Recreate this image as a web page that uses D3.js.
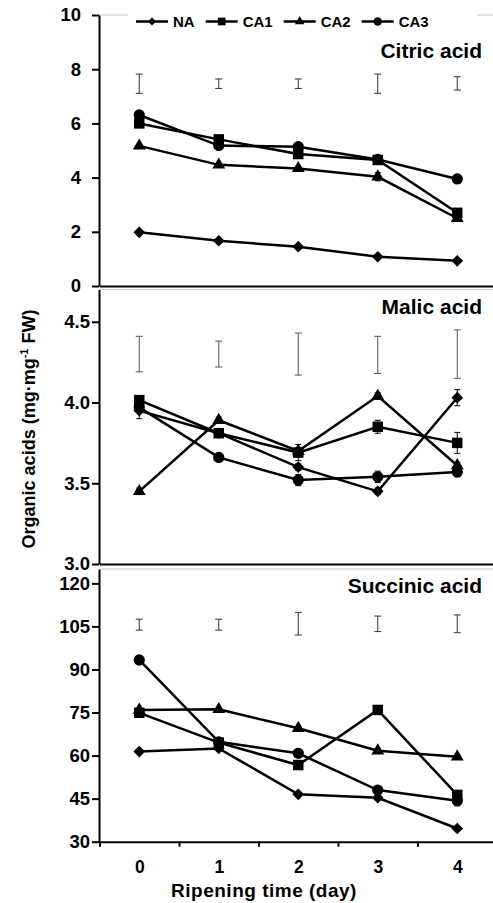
<!DOCTYPE html>
<html lang="en">
<head>
<meta charset="UTF-8">
<title>Organic acids</title>
<script src="https://d3js.org/d3.v7.min.js"></script>
<style>
    body { margin: 0; background: #fff; }
    svg text { font-family: "Liberation Sans", Arial, sans-serif; font-weight: bold; fill: #000; }
</style>
</head>
<body>
<svg id="chart" width="493" height="903"></svg>
<script>
    // ---------- data ----------
    var days = [0, 1, 2, 3, 4];
    var seriesNames = ["NA", "CA1", "CA2", "CA3"];

    // citric acid
    var citricNA  = [1.98, 1.67, 1.45, 1.08, 0.93];
    var citricCA1 = [6.00, 5.41, 4.87, 4.65, 2.70];
    var citricCA2 = [5.17, 4.47, 4.34, 4.03, 2.50];
    var citricCA3 = [6.31, 5.18, 5.14, 4.67, 3.95];
    var citricErrNA  = [0.04, 0.04, 0.04, 0.04, 0.04];
    var citricErrCA1 = [0.05, 0.05, 0.05, 0.05, 0.05];
    var citricErrCA2 = [0.05, 0.05, 0.05, 0.15, 0.05];
    var citricErrCA3 = [0.05, 0.05, 0.05, 0.05, 0.05];
    var citricLsdLow  = [7.11, 7.29, 7.29, 7.11, 7.23];
    var citricLsdHigh = [7.82, 7.64, 7.64, 7.82, 7.72];
    var citricTicks = [0, 2, 4, 6, 8, 10];

    // malic acid
    var malicNA  = [3.95, 3.81, 3.60, 3.45, 4.03];
    var malicCA1 = [4.015, 3.81, 3.69, 3.85, 3.75];
    var malicCA2 = [3.45, 3.89, 3.70, 4.04, 3.61];
    var malicCA3 = [3.97, 3.66, 3.52, 3.54, 3.57];
    var malicErrNA  = [0.05, 0.02, 0.02, 0.02, 0.05];
    var malicErrCA1 = [0.02, 0.02, 0.05, 0.04, 0.065];
    var malicErrCA2 = [0.02, 0.02, 0.02, 0.02, 0.02];
    var malicErrCA3 = [0.02, 0.02, 0.035, 0.035, 0.03];
    var malicLsdLow  = [4.19, 4.22, 4.17, 4.18, 4.15];
    var malicLsdHigh = [4.41, 4.38, 4.43, 4.41, 4.45];
    var malicTicks = [3.0, 3.5, 4.0, 4.5];

    // succinic acid
    var succinicNA  = [61.4, 62.5, 46.5, 45.3, 34.6];
    var succinicCA1 = [74.9, 64.5, 56.7, 75.9, 46.3];
    var succinicCA2 = [75.9, 76.1, 69.5, 61.7, 59.6];
    var succinicCA3 = [93.3, 64.8, 60.8, 48.0, 44.3];
    var succinicErrNA  = [0.5, 0.5, 0.5, 0.5, 0.5];
    var succinicErrCA1 = [0.5, 0.5, 0.5, 0.5, 1.0];
    var succinicErrCA2 = [0.5, 0.5, 0.5, 0.5, 0.5];
    var succinicErrCA3 = [0.5, 0.5, 0.5, 0.5, 1.8];
    var succinicLsdLow  = [103.7, 103.7, 102.0, 103.2, 102.8];
    var succinicLsdHigh = [107.5, 107.5, 109.9, 108.6, 109.0];
    var succinicTicks = [30, 45, 60, 75, 90, 105, 120];

    // ---------- layout ----------
    var svg = d3.select("#chart");
    var left = 99, right = 493;

    var x = d3.scaleLinear().domain([-0.5, 4.5]).range([99.5, 497]);

    var panels = [
        { title: "Citric acid", values: [citricNA, citricCA1, citricCA2, citricCA3],
          err: [citricErrNA, citricErrCA1, citricErrCA2, citricErrCA3],
          lsdLow: citricLsdLow, lsdHigh: citricLsdHigh, ticks: citricTicks, fmt: d3.format("d"),
          domain: [0, 10], range: [286, 15], pad: 11, titleY: 58, lsdColor: "#333" },
        { title: "Malic acid", values: [malicNA, malicCA1, malicCA2, malicCA3],
          err: [malicErrNA, malicErrCA1, malicErrCA2, malicErrCA3],
          lsdLow: malicLsdLow, lsdHigh: malicLsdHigh, ticks: malicTicks, fmt: d3.format(".1f"),
          domain: [3.0, 4.7], range: [564, 289.5], pad: 2, titleY: 314, lsdColor: "#555" },
        { title: "Succinic acid", values: [succinicNA, succinicCA1, succinicCA2, succinicCA3],
          err: [succinicErrNA, succinicErrCA1, succinicErrCA2, succinicErrCA3],
          lsdLow: succinicLsdLow, lsdHigh: succinicLsdHigh, ticks: succinicTicks, fmt: d3.format("d"),
          domain: [30, 125], range: [841.7, 569], pad: 2, titleY: 593, lsdColor: "#333" }
    ];

    var symbols = {
        NA:  { type: d3.symbolSquare, size: 68, rot: 45, legendSize: 34 },
        CA1: { type: d3.symbolSquare, size: 110, rot: 0, legendSize: 60 },
        CA2: { type: d3.symbolTriangle, size: 72, rot: 0, legendSize: 40 },
        CA3: { type: d3.symbolCircle, size: 100, rot: 0, legendSize: 55 }
    };

    panels.forEach(function (p, pi) {
        var y = d3.scaleLinear().domain(p.domain).range(p.range);
        var g = svg.append("g");

        // light frame on top
        g.append("line")
            .attr("x1", left).attr("x2", right)
            .attr("y1", p.range[1]).attr("y2", p.range[1])
            .attr("stroke", "#c8c8c8").attr("stroke-width", 1);

        // LSD bars
        var lsd = g.append("g").attr("stroke", p.lsdColor).attr("stroke-width", 1);
        days.forEach(function (d, i) {
            lsd.append("line").attr("x1", x(d)).attr("x2", x(d))
                .attr("y1", y(p.lsdLow[i])).attr("y2", y(p.lsdHigh[i]));
            [p.lsdLow[i], p.lsdHigh[i]].forEach(function (v) {
                lsd.append("line").attr("x1", x(d) - 3.5).attr("x2", x(d) + 3.5)
                    .attr("y1", y(v)).attr("y2", y(v));
            });
        });

        // series
        var line = d3.line().x(function (d, i) { return x(days[i]); }).y(function (d) { return y(d); });
        p.values.forEach(function (vals, si) {
            var eg = g.append("g").attr("stroke", "#000").attr("stroke-width", 1);
            vals.forEach(function (v, i) {
                var e = p.err[si][i];
                eg.append("line").attr("x1", x(days[i])).attr("x2", x(days[i]))
                    .attr("y1", y(v - e)).attr("y2", y(v + e));
                [v - e, v + e].forEach(function (w) {
                    eg.append("line").attr("x1", x(days[i]) - 3).attr("x2", x(days[i]) + 3)
                        .attr("y1", y(w)).attr("y2", y(w));
                });
            });
            g.append("path").datum(vals)
                .attr("d", line)
                .attr("fill", "none").attr("stroke", "#000").attr("stroke-width", 2.5);
        });
        p.values.forEach(function (vals, si) {
            var s = symbols[seriesNames[si]];
            g.selectAll(null).data(vals).enter().append("path")
                .attr("d", d3.symbol().type(s.type).size(s.size))
                .attr("transform", function (d, i) {
                    return "translate(" + x(days[i]) + "," + y(d) + ") rotate(" + s.rot + ")";
                })
                .attr("fill", "#000");
        });

        // y axis
        var ya = g.append("g").attr("transform", "translate(" + left + ",0)")
            .call(d3.axisLeft(y).tickValues(p.ticks).tickFormat(p.fmt)
                .tickSize(7).tickSizeOuter(0).tickPadding(p.pad));
        ya.select(".domain").attr("stroke-width", 2);
        ya.selectAll(".tick line").attr("stroke-width", 2);
        ya.selectAll(".tick text").style("font-size", "18.5px");

        // x axis line (ticks only on the last panel)
        var last = pi === panels.length - 1;
        var xa = g.append("g").attr("transform", "translate(0," + p.range[0] + ")")
            .call(d3.axisBottom(x).tickValues(last ? [-0.5, 0.5, 1.5, 2.5, 3.5, 4.5] : [])
                .tickSize(last ? 5 : 0).tickSizeOuter(0).tickFormat(""));
        xa.select(".domain").attr("stroke-width", 2);
        xa.selectAll(".tick line").attr("stroke-width", 2);

        if (last) {
            var xl = g.append("g").attr("transform", "translate(0," + p.range[0] + ")")
                .call(d3.axisBottom(x).tickValues(days).tickSize(0).tickPadding(19).tickFormat(d3.format("d")));
            xl.select(".domain").remove();
            xl.selectAll(".tick text").style("font-size", "17.5px");
        }

        // panel title
        g.append("text")
            .attr("x", 482).attr("y", p.titleY)
            .attr("text-anchor", "end")
            .style("font-size", "21px")
            .text(p.title);
    });

    // legend
    var lg = svg.append("g");
    lg.append("rect").attr("x", 128).attr("y", 8).attr("width", 349).attr("height", 26).attr("fill", "#fff");
    var lx = 136, ly = 21.5;
    seriesNames.forEach(function (name) {
        var s = symbols[name];
        lg.append("line").attr("x1", lx).attr("x2", lx + 32).attr("y1", ly).attr("y2", ly)
            .attr("stroke", "#000").attr("stroke-width", 2.5);
        lg.append("path")
            .attr("d", d3.symbol().type(s.type).size(s.legendSize))
            .attr("transform", "translate(" + (lx + 16) + "," + ly + ") rotate(" + s.rot + ")")
            .attr("fill", "#000");
        var t = lg.append("text").attr("x", lx + 37).attr("y", ly + 5.5)
            .style("font-size", "15px").text(name);
        lx = lx + 37 + t.node().getComputedTextLength() + 11;
    });

    // axis titles
    svg.append("text")
        .attr("x", 264).attr("y", 897)
        .attr("text-anchor", "middle")
        .style("font-size", "19px").style("letter-spacing", "0.5px")
        .text("Ripening time (day)");

    var yl = svg.append("text")
        .attr("transform", "translate(35,429) rotate(-90)")
        .attr("text-anchor", "middle")
        .style("font-size", "18px");
    yl.append("tspan").text("Organic acids (mg\u00b7mg");
    yl.append("tspan").attr("dy", -7).style("font-size", "11px").text("-1");
    yl.append("tspan").attr("dy", 7).text(" FW)");
</script>
</body>
</html>
